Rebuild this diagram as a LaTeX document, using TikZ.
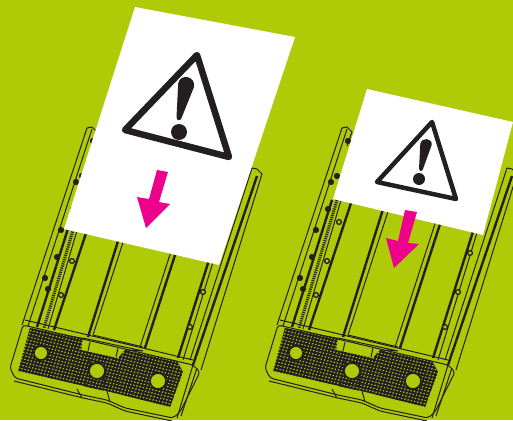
\documentclass[tikz,border=0pt]{standalone}
\usepackage{xcolor}
\definecolor{leaf}{HTML}{AFCB08}
\definecolor{ink}{HTML}{231F20}
\definecolor{pinkarrow}{HTML}{EC008C}
\tikzset{
  thinline/.style={draw=ink,line width=1pt},
  thickline/.style={draw=ink,line width=2.4pt},
  gridline/.style={draw=ink,line width=1.8pt},
  warnline/.style={draw=ink,line join=round,fill=white},
  paper/.style={fill=white,draw=none},
  bolt/.style={fill=ink,draw=ink,line width=0.5pt},
  tray/.pic={
    % outer rails
    \draw[thinline] (87,128) -- (22,325);
    \draw[thinline] (92,129) -- (28,326);
    \draw[thinline] (87,128) -- (92,127) -- (97,132) -- (92,146);
    \draw[thinline] (252,168) -- (190,360);
    \draw[thickline] (257,176) -- (193,365);
    \draw[thinline] (262,174) -- (201,370);
    \draw[thinline] (252,168) -- (257,169) -- (262,174);
    % inner rails
    \draw[thickline] (77,200) -- (37,327);
    \draw[thinline,dash pattern=on 1.2pt off 1pt,line width=3pt] (82,200) -- (44,328);
    \draw[thinline] (86,200) -- (48,329);
    \draw[thickline] (96,203) -- (54,330);
    \draw[thickline] (134,190) -- (88,337);
    \draw[thinline] (140,190) -- (93,335);
    \draw[thinline] (191,190) -- (140,347);
    \draw[thickline] (196,190) -- (145,348);
    \draw[thickline] (228,200) -- (178,358);
    \draw[thinline] (232,200) -- (183,360);
    \draw[thinline] (93,335) -- (143,347);
    % bolts on the rails
    \foreach \bx/\by in {93/141,82/176,76/182,73/209,61/230,57/257,45/278,48/289}
      \fill[bolt] (\bx,\by) circle (2.8);
    \foreach \bx/\by in {84/222,72/261,61/295,215/253,203/292,190/327}
      \draw[thinline,line width=1.3pt,fill=leaf] (\bx,\by) circle (2.4);
    % base
    \draw[thinline,fill=leaf,rounded corners=3pt] (23,325) -- (10,368) -- (15,378)
      -- (83,395) -- (107,400) -- (125,408) -- (173,418) -- (180,412) -- (200,372)
      -- (193,365) -- cycle;
    \draw[thinline] (25,320) -- (193,360);
    \draw[thinline,rounded corners=3pt] (14,381) -- (83,398) -- (107,403) -- (125,411) -- (172,421);
    \draw[thinline] (193,365) -- (177,418);
    \draw[thinline] (197,368) -- (181,416);
    % dotted panels
    \begin{scope}
      \clip (30,328) -- (83,338) -- (81,350) -- (118,358) -- (125,350) -- (177,361)
        -- (183,372) -- (170,407) -- (107,391) -- (18,371) -- cycle;
      \foreach \k in {0,...,32}
        \draw[gridline] ({15-1*\k},{322+3.1*\k}) -- ++(200,47.5);
      \foreach \k in {0,...,64}
        \draw[gridline] ({10+3.2*\k},{315+0.76*\k}) -- ++(-35,108.5);
    \end{scope}
    \draw[thinline] (83,338) -- (143,351) -- (125,350);
    \draw[thinline] (90,342) -- (88,351);
    \draw[thinline] (118,348) -- (116,357);
    \draw[thinline] (90,360) -- (85,386) -- (103,390) -- (107,365);
    \draw[thinline] (77,389) -- (82,398);
    \draw[thinline] (107,391) -- (110,402);
    \foreach \hx/\hy/\hr in {41/353/7,97/371/8,158/381/8}
      \draw[draw=ink,line width=1.6pt,fill=leaf] (\hx,\hy) circle (\hr);
  }
}
\begin{document}
\begin{tikzpicture}[x=1pt,y=-1pt]
  \fill[leaf] (0,0) rectangle (513,420);
  \useasboundingbox (0,0) rectangle (513,420);
  \clip (0,0) rectangle (513,420);

  \pic (traya) at (0,0) {tray};
  \pic (trayb) at (255,0) {tray};

  % left sheet
  \fill[paper] (135,7) -- (295,37) -- (219,265) -- (64,229) -- cycle;
  \draw[warnline,line width=6.5pt] (197,55) -- (125,130) -- (229,157) -- cycle;
  \fill[ink] (178.2,83.5) .. controls (180,73) and (196,76) .. (194,87)
    -- (181.5,118) .. controls (180.5,121.5) and (176,120.5) .. (176.5,117) -- cycle;
  \fill[ink] (179,132) circle (8);
  \fill[pinkarrow] (157,170) -- (168,172) -- (159,202) -- (170,204) -- (146,228)
    -- (137,197) -- (149,199) -- cycle;

  % right sheet
  \fill[paper] (367,89) -- (513,122) -- (483,235) -- (333,199) -- cycle;
  \draw[warnline,line width=4.5pt] (432,122) -- (377,182) -- (456,199) -- cycle;
  \fill[ink] (420.3,144) .. controls (421.5,137) and (432.5,137.5) .. (431.7,145)
    -- (423,169) .. controls (422,172) and (419,171.5) .. (419,169) -- cycle;
  \fill[ink] (419,179) circle (6);
  \fill[pinkarrow] (405,210) -- (417,212) -- (408,243) -- (419,244) -- (394,268)
    -- (386,238) -- (398,241) -- cycle;
\end{tikzpicture}
\end{document}
